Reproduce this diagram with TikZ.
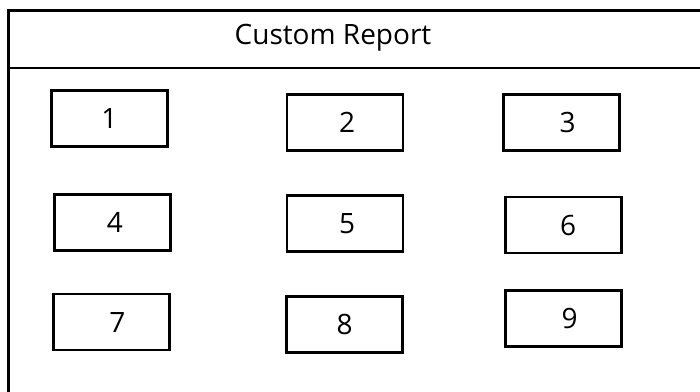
\documentclass[tikz,border=0pt]{standalone}
\usepackage{fontspec}
\setmainfont{Open Sans}
\tikzset{
  cell/.style={draw, line width=2.6pt, minimum width=116pt, minimum height=56pt,
    inner sep=0pt, font=\fontsize{28}{32}\selectfont},
  nudge/.style={execute at begin node={\hspace*{#1}}},
  frame/.style={line width=2.6pt}
}
\begin{document}
\begin{tikzpicture}[x=1pt,y=-1pt]
  \clip (0,0) rectangle (700,391);
  \fill[white] (0,0) rectangle (700,391);
  % report frame and header
  \draw[frame] (8.5,420) -- (8.5,10.5) -- (720,10.5);
  \draw[frame] (8.5,68) -- (720,68);
  \node[font=\fontsize{28}{32}\selectfont] (title) at (333,38) {Custom Report};
  % report fields
  \draw
    (109.5,118.5) node[cell] (1){1}
    (345,122.5) node[cell, nudge=4pt] (2){2}
    (561.5,122.5) node[cell, nudge=12pt] (3){3}
    (112.5,222.5) node[cell, nudge=5pt] (4){4}
    (345,223.5) node[cell, nudge=4pt] (5){5}
    (563.5,225) node[cell, nudge=9pt] (6){6}
    (111.5,322) node[cell, nudge=12pt] (7){7}
    (344.5,324.5) node[cell] (8){8}
    (563.5,318.5) node[cell, nudge=12pt] (9){9};
\end{tikzpicture}
\end{document}
